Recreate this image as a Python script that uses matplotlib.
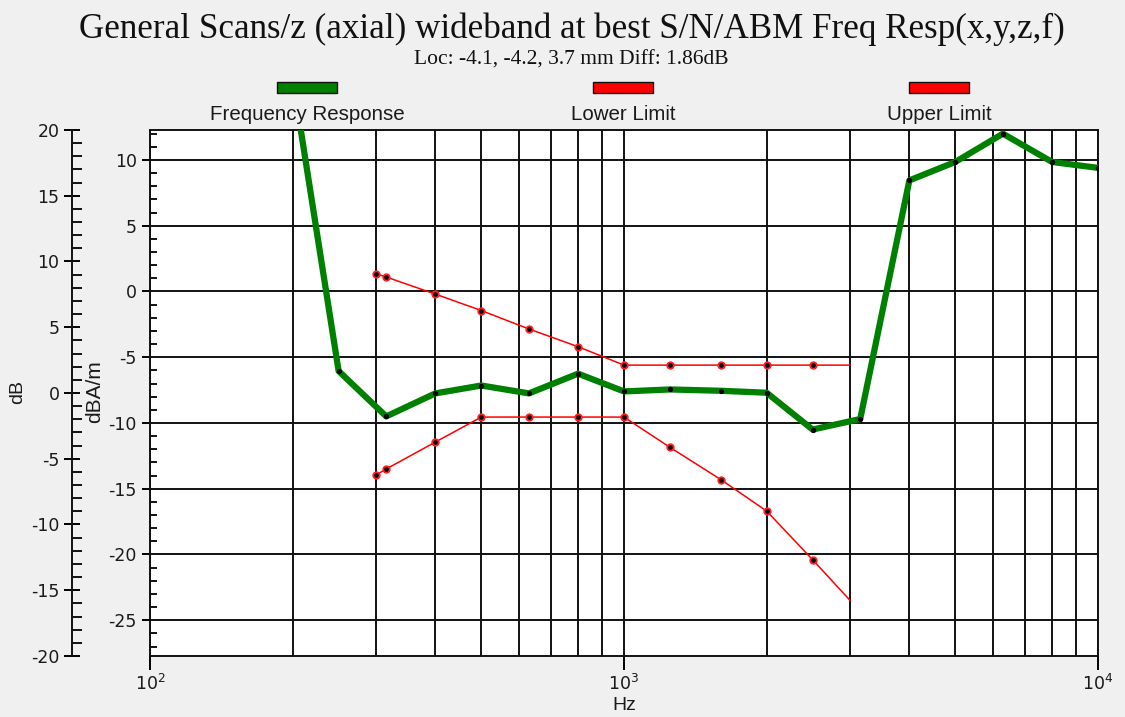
import numpy as np
import matplotlib
matplotlib.use("Agg")
import matplotlib.pyplot as plt
from matplotlib.patches import Rectangle
from matplotlib.ticker import MultipleLocator, LogLocator, NullFormatter

plt.rcParams["axes.unicode_minus"] = False

# data (dBA/m on the inner axis)
fr_hz = [200, 250, 315, 400, 500, 630, 800, 1000, 1250, 1600, 2000, 2500,
         3150, 4000, 5000, 6300, 8000, 10000]
fr_db = [16.2, -6.05, -9.5, -7.75, -7.15, -7.75, -6.25, -7.6, -7.45, -7.55,
         -7.7, -10.5, -9.7, 8.45, 9.85, 12.0, 9.85, 9.4]

lim_hz = [300, 315, 400, 500, 630, 800, 1000, 1250, 1600, 2000, 2500, 3000]
upper_db = [1.35, 1.1, -0.2, -1.45, -2.85, -4.2, -5.6, -5.6, -5.6, -5.6, -5.6, -5.6]
lower_db = [-13.95, -13.5, -11.45, -9.55, -9.55, -9.55, -9.55, -11.85, -14.3,
            -16.7, -20.4, -23.5]

legend_labels = ["Frequency Response", "Lower Limit", "Upper Limit"]
legend_colors = ["#008000", "#ff0000", "#ff0000"]

title = "General Scans/z (axial) wideband at best S/N/ABM Freq Resp(x,y,z,f)"
subtitle = "Loc: -4.1, -4.2, 3.7 mm Diff: 1.86dB"

W, H = 1125, 717
BG = "#f0f0f0"
SANS = "Liberation Sans"
INK = "#111111"


def fx(x):
    return x / W


def fy(y):
    return 1 - y / H


fig = plt.figure(figsize=(W / 100, H / 100), dpi=100, facecolor=BG)

left, right, top, bottom = 150, 1098, 130, 656
ax = fig.add_axes([fx(left), fy(bottom), fx(right - left), (bottom - top) / H])
ax.set_facecolor("white")
ax.set_xscale("log")
ax.set_xlim(100, 10000)
ax.set_ylim(-27.72, 12.28)

ax.yaxis.set_major_locator(MultipleLocator(5))
ax.yaxis.set_minor_locator(MultipleLocator(1))
ax.xaxis.set_major_locator(LogLocator(base=10))
ax.xaxis.set_minor_locator(LogLocator(base=10, subs=np.arange(2, 10)))
ax.xaxis.set_minor_formatter(NullFormatter())

ax.grid(True, which="major", axis="y", color=INK, lw=1.4)
ax.grid(True, which="both", axis="x", color=INK, lw=1.4)
ax.set_axisbelow(True)

for s in ax.spines.values():
    s.set_color(INK)
    s.set_linewidth(1.4)

ax.tick_params(axis="y", which="major", direction="out", length=6, width=1.4,
               pad=3.5, labelsize=12.5, labelcolor="#1a1a1a")
ax.tick_params(axis="y", which="minor", direction="in", length=5, width=1.3)
ax.tick_params(axis="x", which="major", direction="out", length=10, width=1.4,
               pad=3, labelsize=12.5, labelcolor="#1a1a1a")
ax.tick_params(axis="x", which="minor", length=0)
for lab in ax.get_xticklabels() + ax.get_yticklabels():
    lab.set_family("DejaVu Sans")

# frequency response
ax.plot(fr_hz, fr_db, color="#008000", lw=4.5, solid_joinstyle="round",
        zorder=4)
ax.plot(fr_hz, fr_db, ls="none", marker="o", ms=2.8, color="black", zorder=5)

# limits
for vals in (upper_db, lower_db):
    ax.plot(lim_hz, vals, color="#ff0000", lw=1.1, zorder=3)
    ax.plot(lim_hz[:-1], vals[:-1], ls="none", marker="o", ms=5,
            color="#ff2020", zorder=3)
    ax.plot(lim_hz[:-1], vals[:-1], ls="none", marker="o", ms=2.3,
            color="black", zorder=3)

ax.set_xlabel("Hz", fontsize=14, family=SANS, color="#1a1a1a", labelpad=2)
fig.text(fx(95), fy(392), "dBA/m", rotation=90, ha="center", va="center",
         fontsize=15, family=SANS, color="#1a1a1a")

# outer dB axis
ax2 = fig.add_axes([fx(72), fy(bottom), 0.0001, (bottom - top) / H])
ax2.set_ylim(-20, 20)
ax2.set_xticks([])
ax2.patch.set_visible(False)
for k in ("top", "right", "bottom"):
    ax2.spines[k].set_visible(False)
ax2.spines["left"].set_color(INK)
ax2.spines["left"].set_linewidth(1.4)
ax2.yaxis.set_major_locator(MultipleLocator(5))
ax2.yaxis.set_minor_locator(MultipleLocator(1))
ax2.tick_params(axis="y", which="major", direction="inout", length=12, width=1.4,
                pad=3, labelsize=12.5, labelcolor="#1a1a1a")
ax2.tick_params(axis="y", which="minor", direction="in", length=7, width=1.3)
for lab in ax2.get_yticklabels():
    lab.set_family("DejaVu Sans")
fig.text(fx(18), fy(392), "dB", rotation=90, ha="center", va="center",
         fontsize=14, family=SANS, color="#1a1a1a")

# titles
fig.text(fx(572), fy(29), title, ha="center", va="center", fontsize=25.2,
         family="Liberation Serif", color=INK)
fig.text(fx(571), fy(60), subtitle, ha="center", va="center", fontsize=15.5,
         family="Liberation Serif", color=INK)

# legend along the top
for i, (lab, col) in enumerate(zip(legend_labels, legend_colors)):
    cx = 307 + 316 * i
    fig.add_artist(Rectangle((fx(cx - 30), fy(93)), fx(60), 11 / H,
                             transform=fig.transFigure, facecolor=col,
                             edgecolor=INK, lw=1.0))
    fig.text(fx(cx), fy(114), lab, ha="center", va="center", fontsize=14.8,
             family=SANS, color="#1a1a1a")

fig.savefig("out.png", dpi=100, facecolor=BG)
